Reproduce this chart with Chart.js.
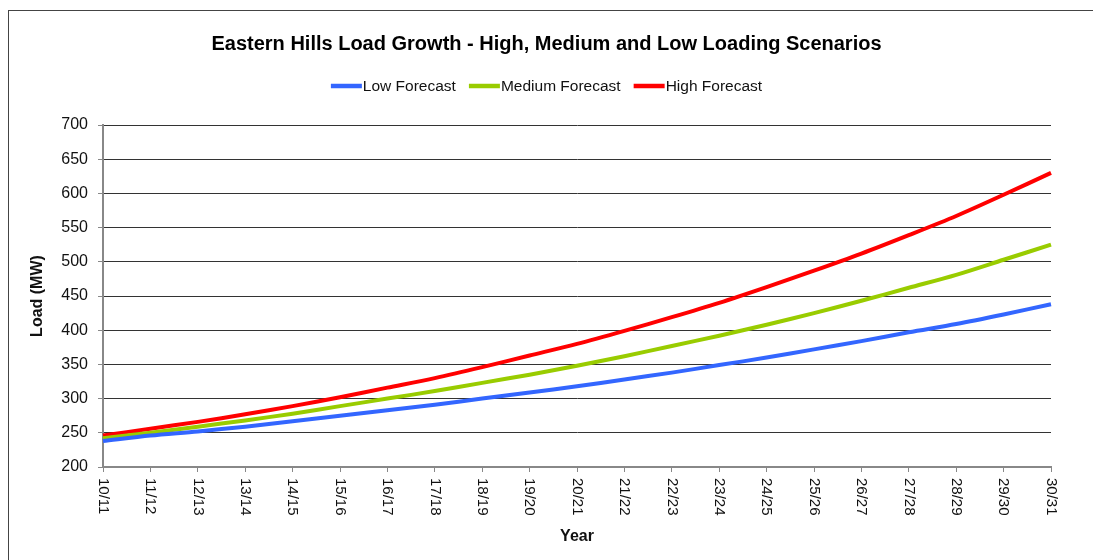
<!DOCTYPE html>
<html>
<head>
<meta charset="utf-8">
<title>Eastern Hills Load Growth</title>
<script src="https://cdn.jsdelivr.net/npm/chart.js@4.4.1/dist/chart.umd.min.js"></script>
<style>
  html, body { margin: 0; padding: 0; background: #fff; overflow: hidden; }
  #wrap { position: absolute; left: 0; top: 0; width: 1093px; height: 560px; }
  #frame { position: absolute; left: 8px; top: 10px; width: 1200px; height: 700px; border: 1px solid #444; pointer-events: none; }
</style>
</head>
<body>
<div id="wrap"><canvas id="myChart" width="1093" height="560"></canvas></div>
<div id="frame"></div>
<script>
// chart data
const years = ["10/11", "11/12", "12/13", "13/14", "14/15", "15/16", "16/17", "17/18", "18/19", "19/20",
  "20/21", "21/22", "22/23", "23/24", "24/25", "25/26", "26/27", "27/28", "28/29", "29/30", "30/31"];
const lowForecast = [238, 246, 252, 259, 267, 275, 283, 291, 300, 309,
  318, 328, 338, 349, 360, 372, 384, 397, 409, 423, 438];
const mediumForecast = [242, 250, 259, 268, 278, 289, 300, 311, 323, 335,
  348, 362, 377, 392, 408, 425, 443, 462, 481, 503, 525];
const highForecast = [246, 256, 266, 277, 289, 302, 316, 330, 346, 363,
  380, 399, 419, 440, 463, 487, 512, 539, 567, 598, 630];
const yMin = 200, yMax = 700, yStep = 50;

const FONT = "'Liberation Sans', Arial, sans-serif";

// x labels turned clockwise (read top to bottom)
const xLabelPlugin = {
  id: "xLabels",
  afterDraw(chart) {
    const ctx = chart.ctx;
    const xs = chart.scales.x;
    ctx.save();
    ctx.font = "15px " + FONT;
    ctx.fillStyle = "#111";
    ctx.textAlign = "left";
    ctx.textBaseline = "middle";
    years.forEach(function(lbl, i) {
      const x = xs.getPixelForValue(i);
      ctx.save();
      ctx.translate(x, xs.top + 11);
      ctx.rotate(Math.PI / 2);
      ctx.fillText(lbl, 0, 0);
      ctx.restore();
    });
    ctx.restore();
  }
};

// legend: line marker right against its text, centred on the page
const legendPlugin = {
  id: "lineLegend",
  afterDraw(chart) {
    const ctx = chart.ctx;
    const markW = 31, gap = 1, itemGap = 13, y = 86;
    ctx.save();
    ctx.font = "15.5px " + FONT;
    const items = chart.data.datasets.map(function(ds) {
      return { text: ds.label, color: ds.borderColor, w: ctx.measureText(ds.label).width };
    });
    let total = 0;
    items.forEach(function(it, i) { total += markW + gap + it.w + (i ? itemGap : 0); });
    let x = (chart.width - total) / 2;
    items.forEach(function(it) {
      ctx.strokeStyle = it.color;
      ctx.lineWidth = 4.5;
      ctx.beginPath();
      ctx.moveTo(x, y);
      ctx.lineTo(x + markW, y);
      ctx.stroke();
      ctx.fillStyle = "#111";
      ctx.textAlign = "left";
      ctx.textBaseline = "middle";
      ctx.fillText(it.text, x + markW + gap, y + 1);
      x += markW + gap + it.w + itemGap;
    });
    ctx.restore();
  }
};

new Chart("myChart", {
  type: "line",
  data: {
    labels: years,
    datasets: [
      { label: "Low Forecast", data: lowForecast, borderColor: "#3366ff", backgroundColor: "#3366ff" },
      { label: "Medium Forecast", data: mediumForecast, borderColor: "#99cc00", backgroundColor: "#99cc00" },
      { label: "High Forecast", data: highForecast, borderColor: "#ff0000", backgroundColor: "#ff0000" }
    ]
  },
  options: {
    responsive: false,
    animation: false,
    layout: { padding: { left: 21, right: 21, top: 0, bottom: 10 } },
    elements: {
      line: { borderWidth: 4, tension: 0.3, fill: false },
      point: { radius: 0 }
    },
    plugins: {
      title: {
        display: true,
        text: "Eastern Hills Load Growth - High, Medium and Low Loading Scenarios",
        color: "#000",
        font: { family: FONT, size: 20, weight: "bold" },
        padding: { top: 32, bottom: 69 }
      },
      legend: { display: false },
      tooltip: { enabled: false }
    },
    scales: {
      x: {
        afterFit(scale) { scale.height = 83; },
        grid: { drawOnChartArea: false, drawTicks: true, tickLength: 5, tickColor: "#888" },
        border: { color: "#888", width: 2 },
        ticks: { display: false },
        title: {
          display: true,
          text: "Year",
          color: "#111",
          font: { family: FONT, size: 16, weight: "bold" },
          padding: { top: 0, bottom: 4 }
        }
      },
      y: {
        min: yMin,
        max: yMax,
        afterFit(scale) { scale.width = 82; },
        grid: { color: "#333", lineWidth: 1, tickLength: 5, tickColor: "#888" },
        border: { color: "#888", width: 2 },
        ticks: {
          stepSize: yStep,
          color: "#111",
          padding: 10,
          font: { family: FONT, size: 16 }
        },
        title: {
          display: true,
          text: "Load (MW)",
          color: "#111",
          font: { family: FONT, size: 16, weight: "bold" },
          padding: { top: 7, bottom: 0 }
        }
      },
      // empty right-hand axis, only keeps the plot's right edge in place
      yRight: {
        position: "right",
        min: yMin,
        max: yMax,
        afterFit(scale) { scale.width = 21; },
        grid: { display: false, drawTicks: false },
        border: { display: false },
        ticks: { display: false }
      }
    }
  },
  plugins: [xLabelPlugin, legendPlugin]
});
</script>
</body>
</html>
